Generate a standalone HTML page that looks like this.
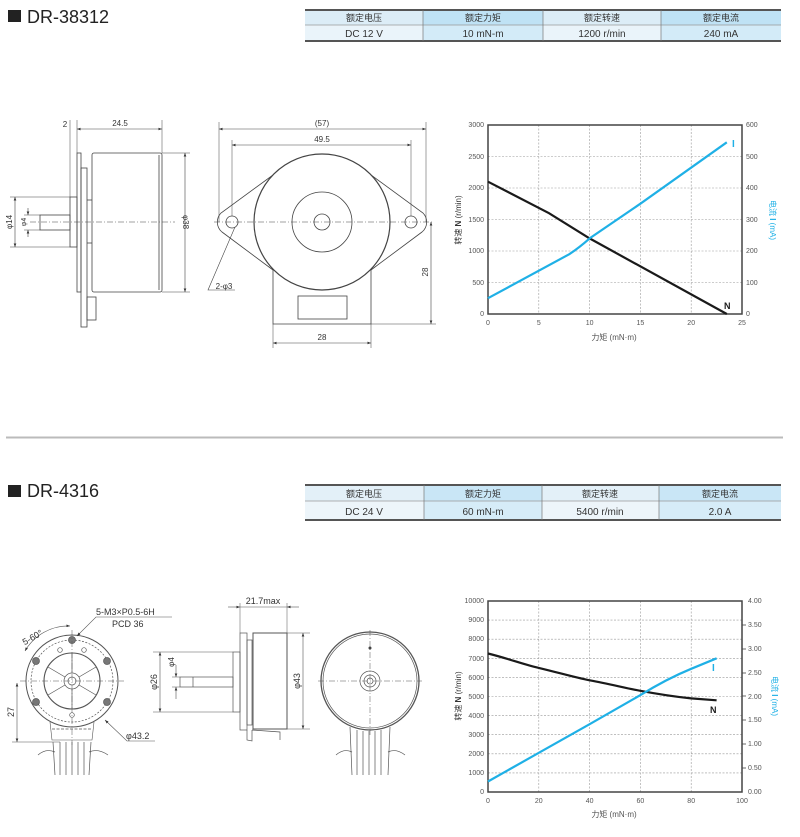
<!DOCTYPE html>
<html><head><meta charset="utf-8"><style>
html,body{margin:0;padding:0;background:#fff;}
svg{display:block;}
text{font-family:"Liberation Sans","Noto Sans CJK SC",sans-serif;}
</style></head><body>
<svg width="800" height="837" viewBox="0 0 800 837" xmlns="http://www.w3.org/2000/svg">
<defs>
<marker id="a" viewBox="0 0 8 6" refX="8" refY="3" markerWidth="6" markerHeight="4.5" orient="auto-start-reverse"><path d="M0,0 L8,3 L0,6z" fill="#333"/></marker>
</defs>

<rect x="8" y="10" width="13" height="12" fill="#222"/>
<text x="27" y="23" font-size="18" fill="#222">DR-38312</text>
<rect x="8" y="485" width="13" height="12" fill="#222"/>
<text x="27" y="497" font-size="18" fill="#222">DR-4316</text>

<g font-size="10" fill="#333" text-anchor="middle">
<rect x="305" y="10" width="118" height="15" fill="#dcedf7"/>
<rect x="423" y="10" width="120" height="15" fill="#bfe2f5"/>
<rect x="543" y="10" width="118" height="15" fill="#dcedf7"/>
<rect x="661" y="10" width="120" height="15" fill="#bfe2f5"/>
<rect x="305" y="25" width="118" height="16" fill="#eaf4fa"/>
<rect x="423" y="25" width="120" height="16" fill="#d3ebf8"/>
<rect x="543" y="25" width="118" height="16" fill="#eaf4fa"/>
<rect x="661" y="25" width="120" height="16" fill="#d3ebf8"/>
<line x1="305" y1="10" x2="781" y2="10" stroke="#555" stroke-width="2"/>
<line x1="305" y1="25" x2="781" y2="25" stroke="#999" stroke-width="0.7"/>
<line x1="305" y1="41" x2="781" y2="41" stroke="#555" stroke-width="2"/>
<line x1="423" y1="10" x2="423" y2="41" stroke="#777" stroke-width="0.7"/>
<line x1="543" y1="10" x2="543" y2="41" stroke="#777" stroke-width="0.7"/>
<line x1="661" y1="10" x2="661" y2="41" stroke="#777" stroke-width="0.7"/>
<text x="364" y="21" font-size="9">额定电压</text><text x="483" y="21" font-size="9">额定力矩</text><text x="602" y="21" font-size="9">额定转速</text><text x="721" y="21" font-size="9">额定电流</text>
<text x="364" y="37">DC 12 V</text><text x="483" y="37">10 mN-m</text><text x="602" y="37">1200 r/min</text><text x="721" y="37">240 mA</text>
</g>

<g font-size="10" fill="#333" text-anchor="middle">
<rect x="305" y="485" width="119" height="16" fill="#e3f0f8"/>
<rect x="424" y="485" width="118" height="16" fill="#c9e6f6"/>
<rect x="542" y="485" width="117" height="16" fill="#e3f0f8"/>
<rect x="659" y="485" width="122" height="16" fill="#c9e6f6"/>
<rect x="305" y="501" width="119" height="19" fill="#edf5fa"/>
<rect x="424" y="501" width="118" height="19" fill="#d6ecf8"/>
<rect x="542" y="501" width="117" height="19" fill="#edf5fa"/>
<rect x="659" y="501" width="122" height="19" fill="#d6ecf8"/>
<line x1="305" y1="485" x2="781" y2="485" stroke="#555" stroke-width="2"/>
<line x1="305" y1="501" x2="781" y2="501" stroke="#999" stroke-width="0.7"/>
<line x1="305" y1="520" x2="781" y2="520" stroke="#555" stroke-width="2"/>
<line x1="424" y1="485" x2="424" y2="520" stroke="#777" stroke-width="0.7"/>
<line x1="542" y1="485" x2="542" y2="520" stroke="#777" stroke-width="0.7"/>
<line x1="659" y1="485" x2="659" y2="520" stroke="#777" stroke-width="0.7"/>
<text x="364" y="497" font-size="9">额定电压</text><text x="483" y="497" font-size="9">额定力矩</text><text x="600" y="497" font-size="9">额定转速</text><text x="720" y="497" font-size="9">额定电流</text>
<text x="364" y="515">DC 24 V</text><text x="483" y="515">60 mN-m</text><text x="600" y="515">5400 r/min</text><text x="720" y="515">2.0 A</text>
</g>

<line x1="6" y1="437.5" x2="783" y2="437.5" stroke="#bbb" stroke-width="2"/>

<g fill="none" stroke="#444" stroke-width="0.8">
<rect x="77" y="153" width="4" height="139"/>
<rect x="81" y="168" width="6" height="159"/>
<rect x="87" y="297" width="9" height="23"/>
<rect x="92" y="153" width="70" height="139" rx="2"/>
<line x1="159" y1="155" x2="159" y2="290"/>
<rect x="70" y="197" width="7" height="50"/>
<rect x="40" y="215" width="30" height="15"/>
<line x1="87" y1="200" x2="92" y2="200"/><line x1="87" y1="243" x2="92" y2="243"/>
<line x1="30" y1="222" x2="175" y2="222" stroke-dasharray="6,2,1,2" stroke-width="0.5"/>
<line x1="70" y1="120" x2="70" y2="197" stroke-width="0.5"/>
<line x1="77" y1="120" x2="77" y2="153" stroke-width="0.5"/>
<line x1="162" y1="120" x2="162" y2="153" stroke-width="0.5"/>
<line x1="77" y1="129" x2="162" y2="129" stroke-width="0.6" marker-start="url(#a)" marker-end="url(#a)"/>
<line x1="162" y1="153" x2="190" y2="153" stroke-width="0.5"/>
<line x1="162" y1="292" x2="190" y2="292" stroke-width="0.5"/>
<line x1="185" y1="153" x2="185" y2="292" stroke-width="0.6" marker-start="url(#a)" marker-end="url(#a)"/>
<line x1="10" y1="197" x2="70" y2="197" stroke-width="0.5"/>
<line x1="10" y1="247" x2="70" y2="247" stroke-width="0.5"/>
<line x1="15" y1="197" x2="15" y2="247" stroke-width="0.6" marker-start="url(#a)" marker-end="url(#a)"/>
<line x1="24" y1="215" x2="40" y2="215" stroke-width="0.5"/>
<line x1="24" y1="230" x2="40" y2="230" stroke-width="0.5"/>
<line x1="28" y1="208" x2="28" y2="215" stroke-width="0.6" marker-end="url(#a)"/>
<line x1="28" y1="237" x2="28" y2="230" stroke-width="0.6" marker-end="url(#a)"/>
</g>
<g font-size="8" fill="#333" text-anchor="middle">
<text x="65" y="127">2</text>
<text x="120" y="126">24.5</text>
<text transform="translate(183,222) rotate(90)">φ38</text>
<text transform="translate(12,222) rotate(-90)">φ14</text>
<text transform="translate(26,222) rotate(-90)" font-size="7">φ4</text>
</g>

<g fill="none" stroke="#444" stroke-width="0.8">
<path d="M273,175 L221,213 A13,13 0 0 0 222,232 L273,270"/>
<path d="M371,175 L423,213 A13,13 0 0 1 422,232 L371,270"/>
<path d="M273,262 L273,324 L371,324 L371,262"/>
<circle cx="322" cy="222" r="68" stroke-width="1.2" fill="#fff"/>
<circle cx="322" cy="222" r="30"/>
<circle cx="322" cy="222" r="8"/>
<circle cx="232" cy="222" r="6"/>
<circle cx="411" cy="222" r="6"/>
<rect x="298" y="296" width="49" height="23"/>
<line x1="214" y1="222" x2="432" y2="222" stroke-dasharray="6,2,1,2" stroke-width="0.5"/>
<line x1="219" y1="122" x2="219" y2="222" stroke-width="0.5"/>
<line x1="426" y1="122" x2="426" y2="222" stroke-width="0.5"/>
<line x1="232" y1="140" x2="232" y2="216" stroke-width="0.5"/>
<line x1="411" y1="140" x2="411" y2="216" stroke-width="0.5"/>
<line x1="219" y1="129" x2="426" y2="129" stroke-width="0.6" marker-start="url(#a)" marker-end="url(#a)"/>
<line x1="232" y1="145" x2="411" y2="145" stroke-width="0.6" marker-start="url(#a)" marker-end="url(#a)"/>
<line x1="431" y1="222" x2="431" y2="324" stroke-width="0.6" marker-start="url(#a)" marker-end="url(#a)"/>
<line x1="371" y1="324" x2="436" y2="324" stroke-width="0.5"/>
<line x1="273" y1="324" x2="273" y2="348" stroke-width="0.5"/>
<line x1="371" y1="324" x2="371" y2="348" stroke-width="0.5"/>
<line x1="273" y1="343" x2="371" y2="343" stroke-width="0.6" marker-start="url(#a)" marker-end="url(#a)"/>
<path d="M235,227 L208,290 L235,290" stroke-width="0.6"/>
</g>
<g font-size="8" fill="#333" text-anchor="middle">
<text x="322" y="126">(57)</text>
<text x="322" y="142">49.5</text>
<text transform="translate(428,272) rotate(-90)">28</text>
<text x="322" y="340">28</text>
<text x="224" y="289">2-φ3</text>
</g>

<g stroke="#999" stroke-width="0.6" stroke-dasharray="2,1.5">
<line x1="538.8" y1="125" x2="538.8" y2="314"/><line x1="589.6" y1="125" x2="589.6" y2="314"/><line x1="640.4" y1="125" x2="640.4" y2="314"/><line x1="691.2" y1="125" x2="691.2" y2="314"/>
<line x1="488" y1="156.5" x2="742" y2="156.5"/><line x1="488" y1="188" x2="742" y2="188"/><line x1="488" y1="219.5" x2="742" y2="219.5"/><line x1="488" y1="251" x2="742" y2="251"/><line x1="488" y1="282.5" x2="742" y2="282.5"/>
</g>
<rect x="488" y="125" width="254" height="189" fill="none" stroke="#444" stroke-width="1.5"/>
<path d="M488,181.7 L549,213.2 L589.6,238.4 L726.8,314" fill="none" stroke="#1a1a1a" stroke-width="2.2"/>
<path d="M488,298.2 L569.3,254.2 Q580,247 589.6,238.4 L640.4,203.7 L726.8,142.3" fill="none" stroke="#1fb0e6" stroke-width="2.2"/>
<g font-size="7" fill="#555">
<g text-anchor="end"><text x="484" y="127">3000</text><text x="484" y="159">2500</text><text x="484" y="190">2000</text><text x="484" y="222">1500</text><text x="484" y="253">1000</text><text x="484" y="285">500</text><text x="484" y="316">0</text></g>
<g><text x="746" y="127">600</text><text x="746" y="159">500</text><text x="746" y="190">400</text><text x="746" y="222">300</text><text x="746" y="253">200</text><text x="746" y="285">100</text><text x="746" y="316">0</text></g>
<g text-anchor="middle"><text x="488" y="325">0</text><text x="538.8" y="325">5</text><text x="589.6" y="325">10</text><text x="640.4" y="325">15</text><text x="691.2" y="325">20</text><text x="742" y="325">25</text></g>
<text x="614" y="340" text-anchor="middle" font-size="8">力矩 (mN·m)</text>
<text transform="translate(461,220) rotate(-90)" text-anchor="middle" font-size="8" fill="#333">转速 <tspan font-weight="bold">N</tspan> (r/min)</text>
<text transform="translate(770,220) rotate(90)" text-anchor="middle" font-size="8" fill="#1fb0e6">电流 <tspan font-weight="bold">I</tspan> (mA)</text>
</g>
<text x="732" y="147" font-size="10" font-weight="bold" fill="#1fb0e6">I</text>
<text x="724" y="309" font-size="9" font-weight="bold" fill="#1a1a1a">N</text>

<g fill="none" stroke="#555" stroke-width="0.7">
<path d="M50,722 L52,740 L92,740 L94,722" stroke-width="0.6"/>
<path d="M53,742 L55,775 M91,742 L89,775 M60,742 V775 M66,742 V775 M72,742 V775 M78,742 V775 M84,742 V775"/>
<path d="M38,755 Q46,748 55,752 M89,752 Q98,748 108,755"/>
<circle cx="72" cy="681" r="46" stroke-width="1" fill="#fff"/>
<circle cx="72" cy="681" r="41" stroke-dasharray="2,1.5"/>
<circle cx="72" cy="681" r="28" stroke-width="1.1"/>
<circle cx="72" cy="681" r="8"/>
<circle cx="72" cy="681" r="4"/>
<line x1="72" y1="673" x2="72" y2="653"/><line x1="72" y1="689" x2="72" y2="709"/>
<line x1="65" y1="677" x2="48" y2="667"/><line x1="79" y1="677" x2="96" y2="667"/>
<line x1="65" y1="685" x2="48" y2="695"/><line x1="79" y1="685" x2="96" y2="695"/>
<circle cx="72" cy="640" r="3.5" fill="#777"/><circle cx="36" cy="661" r="3.5" fill="#777"/><circle cx="107" cy="661" r="3.5" fill="#777"/><circle cx="36" cy="702" r="3.5" fill="#777"/><circle cx="107" cy="702" r="3.5" fill="#777"/>
<circle cx="60" cy="650" r="2.3"/><circle cx="84" cy="650" r="2.3"/><circle cx="72" cy="715" r="2.3"/>
<path d="M52,729 h40" stroke-dasharray="3,1.5"/>
<line x1="20" y1="681" x2="124" y2="681" stroke-dasharray="6,2,1,2" stroke-width="0.5"/>
<line x1="72" y1="630" x2="72" y2="745" stroke-dasharray="6,2,1,2" stroke-width="0.5"/>
<line x1="12" y1="742" x2="60" y2="742" stroke-width="0.5"/>
<line x1="17" y1="683" x2="17" y2="742" stroke-width="0.6" marker-start="url(#a)" marker-end="url(#a)"/>
<path d="M25,651 A50,50 0 0 1 70,626" stroke-width="0.6" marker-start="url(#a)" marker-end="url(#a)"/>
<path d="M77,636 L96,617 L172,617" stroke-width="0.6" marker-start="url(#a)"/>
<path d="M105,720 L127,741 L155,741" stroke-width="0.6" marker-start="url(#a)"/>
</g>
<g font-size="9" fill="#333">
<text x="96" y="615">5-M3×P0.5-6H</text>
<text x="112" y="627">PCD 36</text>
<text x="126" y="739">φ43.2</text>
<text transform="translate(14,712) rotate(-90)" text-anchor="middle">27</text>
<text transform="translate(34,640) rotate(-30)" text-anchor="middle">5-60°</text>
</g>

<g fill="none" stroke="#555" stroke-width="0.7">
<rect x="180" y="677" width="53" height="10"/>
<line x1="193" y1="677" x2="193" y2="687"/>
<rect x="233" y="652" width="7" height="60"/>
<rect x="240" y="633" width="7" height="97"/>
<rect x="247" y="640" width="5" height="85"/>
<rect x="253" y="633" width="34" height="96" stroke-width="1"/>
<path d="M247,730 L247,740 L252,741 L252,730 M252,730 L280,732 L280,740"/>
<line x1="240" y1="603" x2="240" y2="633" stroke-width="0.5"/>
<line x1="287" y1="603" x2="287" y2="633" stroke-width="0.5"/>
<line x1="228" y1="607" x2="240" y2="607" stroke-width="0.6" marker-end="url(#a)"/>
<line x1="299" y1="607" x2="287" y2="607" stroke-width="0.6" marker-end="url(#a)"/>
<line x1="240" y1="607" x2="287" y2="607" stroke-width="0.5"/>
<line x1="287" y1="633" x2="310" y2="633" stroke-width="0.5"/>
<line x1="287" y1="729" x2="310" y2="729" stroke-width="0.5"/>
<line x1="303" y1="633" x2="303" y2="729" stroke-width="0.6" marker-start="url(#a)" marker-end="url(#a)"/>
<line x1="153" y1="652" x2="233" y2="652" stroke-width="0.5"/>
<line x1="153" y1="712" x2="233" y2="712" stroke-width="0.5"/>
<line x1="160" y1="652" x2="160" y2="712" stroke-width="0.6" marker-start="url(#a)" marker-end="url(#a)"/>
<line x1="172" y1="677" x2="180" y2="677" stroke-width="0.5"/>
<line x1="172" y1="687" x2="180" y2="687" stroke-width="0.5"/>
<line x1="176" y1="665" x2="176" y2="677" stroke-width="0.6" marker-end="url(#a)"/>
<line x1="176" y1="699" x2="176" y2="687" stroke-width="0.6" marker-end="url(#a)"/>
</g>
<g font-size="9" fill="#333" text-anchor="middle">
<text x="263" y="604">21.7max</text>
<text transform="translate(300,681) rotate(-90)">φ43</text>
<text transform="translate(157,682) rotate(-90)">φ26</text>
<text transform="translate(174,662) rotate(-90)" font-size="8">φ4</text>
</g>

<g fill="none" stroke="#555" stroke-width="0.7">
<path d="M350,727 L352,775 M390,727 L388,775 M357,730 V775 M363,731 V775 M369,731 V775 M375,731 V775 M381,730 V775"/>
<path d="M336,755 Q344,748 352,752 M388,752 Q396,748 405,755"/>
<circle cx="370" cy="681" r="49" stroke-width="1.3" fill="#fff"/>
<circle cx="370" cy="681" r="47"/>
<circle cx="370" cy="681" r="10"/>
<circle cx="370" cy="681" r="6"/>
<circle cx="370" cy="681" r="3"/>
<circle cx="370" cy="648" r="1.2" fill="#333"/>
<line x1="318" y1="681" x2="422" y2="681" stroke-dasharray="6,2,1,2" stroke-width="0.5"/>
<line x1="370" y1="630" x2="370" y2="735" stroke-dasharray="6,2,1,2" stroke-width="0.5"/>
</g>

<g stroke="#999" stroke-width="0.6" stroke-dasharray="2,1.5">
<line x1="538.8" y1="601" x2="538.8" y2="792"/><line x1="589.6" y1="601" x2="589.6" y2="792"/><line x1="640.4" y1="601" x2="640.4" y2="792"/><line x1="691.2" y1="601" x2="691.2" y2="792"/>
<line x1="488" y1="620.1" x2="742" y2="620.1"/><line x1="488" y1="639.2" x2="742" y2="639.2"/><line x1="488" y1="658.3" x2="742" y2="658.3"/><line x1="488" y1="677.4" x2="742" y2="677.4"/><line x1="488" y1="696.5" x2="742" y2="696.5"/><line x1="488" y1="715.6" x2="742" y2="715.6"/><line x1="488" y1="734.7" x2="742" y2="734.7"/><line x1="488" y1="753.8" x2="742" y2="753.8"/><line x1="488" y1="772.9" x2="742" y2="772.9"/>
</g>
<rect x="488" y="601" width="254" height="191" fill="none" stroke="#444" stroke-width="1.5"/>
<g stroke="#444" stroke-width="0.8">
<line x1="742" y1="625" x2="746" y2="625"/><line x1="742" y1="649" x2="746" y2="649"/><line x1="742" y1="673" x2="746" y2="673"/><line x1="742" y1="696" x2="746" y2="696"/><line x1="742" y1="720" x2="746" y2="720"/><line x1="742" y1="744" x2="746" y2="744"/><line x1="742" y1="768" x2="746" y2="768"/>
</g>
<path d="M488,653.5 C510,659 525,665 538.8,667.9 C560,673 575,677.5 589.6,680.3 C610,684 625,688 640.4,690.8 C660,694.5 678,697 691.2,698.4 L716.6,700.3" fill="none" stroke="#1a1a1a" stroke-width="2.2"/>
<path d="M488,781.5 L538.8,752.8 L589.6,724.2 L640.4,695.1 C660,683 676,675 691.2,668.8 L716.6,658.3" fill="none" stroke="#1fb0e6" stroke-width="2.2"/>
<g font-size="7" fill="#555">
<g text-anchor="end"><text x="484" y="603">10000</text><text x="484" y="622">9000</text><text x="484" y="641">8000</text><text x="484" y="661">7000</text><text x="484" y="680">6000</text><text x="484" y="699">5000</text><text x="484" y="718">4000</text><text x="484" y="737">3000</text><text x="484" y="756">2000</text><text x="484" y="775">1000</text><text x="484" y="794">0</text></g>
<g><text x="748" y="603">4.00</text><text x="748" y="627">3.50</text><text x="748" y="651">3.00</text><text x="748" y="675">2.50</text><text x="748" y="699">2.00</text><text x="748" y="722">1.50</text><text x="748" y="746">1.00</text><text x="748" y="770">0.50</text><text x="748" y="794">0.00</text></g>
<g text-anchor="middle"><text x="488" y="803">0</text><text x="538.8" y="803">20</text><text x="589.6" y="803">40</text><text x="640.4" y="803">60</text><text x="691.2" y="803">80</text><text x="742" y="803">100</text></g>
<text x="614" y="817" text-anchor="middle" font-size="8">力矩 (mN·m)</text>
<text transform="translate(461,696) rotate(-90)" text-anchor="middle" font-size="8" fill="#333">转速 <tspan font-weight="bold">N</tspan> (r/min)</text>
<text transform="translate(772,696) rotate(90)" text-anchor="middle" font-size="8" fill="#1fb0e6">电流 <tspan font-weight="bold">I</tspan> (mA)</text>
</g>
<text x="712" y="671" font-size="10" font-weight="bold" fill="#1fb0e6">I</text>
<text x="710" y="713" font-size="9" font-weight="bold" fill="#1a1a1a">N</text>
</svg>
</body></html>
